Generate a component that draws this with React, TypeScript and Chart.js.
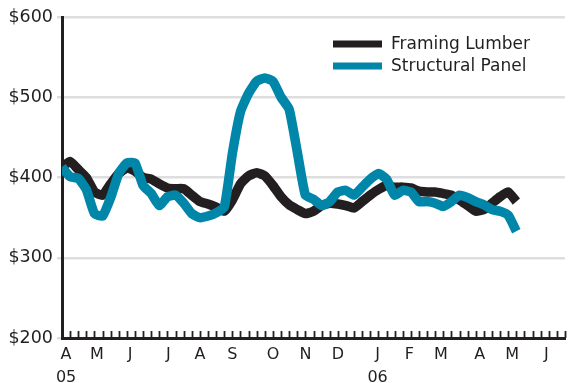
import React, { useEffect, useRef } from "react";
import { Chart, registerables } from "chart.js";

Chart.register(...registerables);

// Weekly prices, starting first week of April 2005
const framingLumber = [
  413, 420, 410, 400, 382, 378, 392, 405, 412, 408, 400, 398, 392, 387, 386, 386,
  378, 370, 367, 363, 358, 372, 392, 402, 406, 402, 390, 376, 366, 360, 355, 358,
  365, 368, 367, 365, 362, 370, 378, 385, 390, 388, 388, 387, 383, 382, 382, 380,
  378, 372, 365, 358, 360, 368, 376, 382, 370,
];
const structuralPanel = [
  413, 401, 399, 385, 355, 352, 375, 405, 418, 418, 390, 380, 365, 376, 378, 368,
  355, 350, 352, 356, 363, 430, 482, 505, 520, 524, 520, 500, 485, 432, 378, 373,
  365, 370, 382, 384, 378, 388, 398, 405, 398, 378, 384, 382, 370, 370, 368, 364,
  370, 378, 375, 370, 366, 360, 358, 353, 333,
];
const seriesNames = ["Framing Lumber", "Structural Panel"];
const seriesColors = ["#231f20", "#0086a9"];

// Month labels (position in weeks from start of April 2005)
const monthWeeks = [0.5, 4.3, 8.4, 13.1, 17, 21, 26, 30, 34, 38.9, 42.8, 46.7, 51.5, 55.5, 59.7];
const monthLabels = ["A", "M", "J", "J", "A", "S", "O", "N", "D", "J", "F", "M", "A", "M", "J"];
const yearLabels = ["05", "", "", "", "", "", "", "", "", "06", "", "", "", "", ""];
const totalWeeks = 62;
const yTicks = [200, 300, 400, 500, 600];

const FONT = "'DejaVu Sans', sans-serif";

const weekTicksPlugin = {
  id: "weekTicks",
  afterDatasetsDraw(chart: any) {
    const { ctx } = chart;
    const xs = chart.scales.x;
    const bottom = chart.chartArea.bottom;
    ctx.save();
    ctx.strokeStyle = "#231f20";
    ctx.lineWidth = 1.8;
    for (let w = 0; w <= totalWeeks; w++) {
      const px = Math.round(xs.getPixelForValue(w)) + 0.5;
      ctx.beginPath();
      ctx.moveTo(px, bottom);
      ctx.lineTo(px, bottom - 7);
      ctx.stroke();
    }
    ctx.restore();
  },
};

const legendPlugin = {
  id: "customLegend",
  afterDraw(chart: any) {
    const { ctx } = chart;
    ctx.save();
    ctx.font = `17px ${FONT}`;
    ctx.textBaseline = "middle";
    chart.data.datasets.forEach((ds: any, i: number) => {
      const cy = 44 + i * 22;
      ctx.fillStyle = ds.borderColor;
      ctx.fillRect(333, cy - 3.5, 49, 7);
      ctx.fillStyle = "#231f20";
      ctx.fillText(ds.label, 391, cy + 1);
    });
    ctx.restore();
  },
};

export default function App() {
  const canvasRef = useRef<HTMLCanvasElement | null>(null);

  useEffect(() => {
    if (!canvasRef.current) return;
    const mk = (arr: number[]) => arr.map((y, i) => ({ x: i, y }));
    const chart = new Chart(canvasRef.current, {
      type: "line",
      data: {
        datasets: [
          {
            label: seriesNames[0],
            data: mk(framingLumber),
            borderColor: seriesColors[0],
            backgroundColor: seriesColors[0],
            borderWidth: 9.5,
            pointRadius: 0,
            tension: 0.15,
            borderJoinStyle: "round",
            order: 1,
          },
          {
            label: seriesNames[1],
            data: mk(structuralPanel),
            borderColor: seriesColors[1],
            backgroundColor: seriesColors[1],
            borderWidth: 9.5,
            pointRadius: 0,
            tension: 0.15,
            borderJoinStyle: "round",
            order: 0,
          },
        ],
      },
      options: {
        animation: false,
        responsive: false,
        maintainAspectRatio: false,
        layout: { padding: { top: 17, right: 3, left: 0, bottom: 0 } },
        plugins: { legend: { display: false }, tooltip: { enabled: false } },
        scales: {
          x: {
            type: "linear",
            min: 0,
            max: totalWeeks,
            afterBuildTicks(scale: any) {
              scale.ticks = monthWeeks.map((v) => ({ value: v }));
            },
            afterFit(scale: any) {
              scale.height = 45;
            },
            ticks: {
              autoSkip: false,
              maxRotation: 0,
              padding: 6,
              color: "#231f20",
              font: { family: FONT, size: 16, lineHeight: 1.4 },
              callback(value: any) {
                const idx = monthWeeks.indexOf(value);
                if (idx < 0) return "";
                return yearLabels[idx] ? [monthLabels[idx], yearLabels[idx]] : monthLabels[idx];
              },
            },
            grid: { display: true, drawOnChartArea: false, drawTicks: false },
            border: { display: true, color: "#231f20", width: 3 },
          },
          y: {
            min: 200,
            max: 600,
            afterBuildTicks(scale: any) {
              scale.ticks = yTicks.map((v) => ({ value: v }));
            },
            afterFit(scale: any) {
              scale.width = 62;
            },
            ticks: {
              padding: 4,
              color: "#231f20",
              font: { family: FONT, size: 17.5 },
              callback: (v: any) => "$" + v,
            },
            grid: { color: "#dedede", lineWidth: 2.5, tickLength: 5 },
            border: { display: true, color: "#231f20", width: 3 },
          },
        },
      },
      plugins: [weekTicksPlugin, legendPlugin],
    });
    return () => chart.destroy();
  }, []);

  return (
    <div style={{ position: "fixed", left: 0, top: 0, width: 568, height: 383, background: "#fff" }}>
      <canvas ref={canvasRef} width={568} height={383} style={{ width: 568, height: 383 }} />
    </div>
  );
}
